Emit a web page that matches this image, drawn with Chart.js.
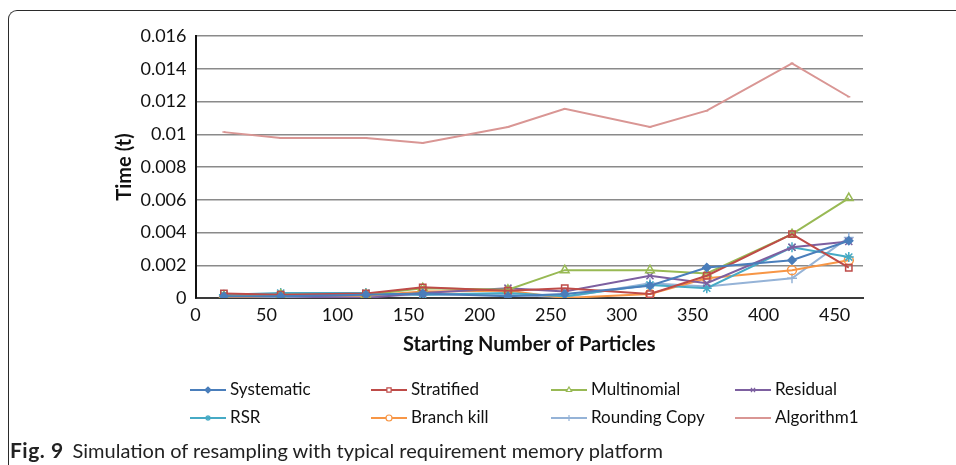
<!DOCTYPE html>
<html>
<head>
<meta charset="utf-8">
<script src="https://cdn.jsdelivr.net/npm/chart.js@4"></script>
<style>
  html, body { margin:0; padding:0; background:#fff; }
  #wrap { position:relative; width:956px; height:465px; overflow:hidden; }
  #frame { position:absolute; left:8px; top:10px; width:960px; height:470px;
           border-top:1.5px solid #2b2b2b; border-left:1.5px solid #2b2b2b; border-top-left-radius:9px; }
  canvas { position:absolute; left:0; top:0; }
  #caption { position:absolute; left:10px; top:437px; font-family:Lato, sans-serif; font-size:20px; color:#222; white-space:nowrap; }
  #caption b { font-weight:bold; font-size:21px; letter-spacing:0.5px; margin-right:9px; }
</style>
</head>
<body>
<div id="wrap">
  <div id="frame"></div>
  <canvas id="c" width="956" height="465"></canvas>
  <div id="caption"><b>Fig. 9</b>Simulation of resampling with typical requirement memory platform</div>
</div>
<script>
const xValues = [20, 60, 120, 160, 220, 260, 320, 360, 420, 460];
const seriesNames = ['Systematic', 'Stratified', 'Multinomial', 'Residual', 'RSR', 'Branch kill', 'Rounding Copy', 'Algorithm1'];
const systematic   = [0.0001, 0.0001, 0.0002, 0.00027, 0.0001, 0.00024, 0.00075, 0.00186, 0.00231, 0.0035];
const stratified   = [0.00028, 0.0002, 0.00028, 0.00065, 0.00045, 0.0006, 0.00024, 0.00136, 0.0039, 0.00185];
const multinomial  = [0.0001, 0.0002, 0.0002, 0.0006, 0.0005, 0.0017, 0.0017, 0.0015, 0.0039, 0.0061];
const residual     = [0.0001, 0.0001, 0, 0.0003, 0.0006, 0.0004, 0.00136, 0.0009, 0.0031, 0.00345];
const rsr          = [0.0002, 0.0003, 0.0003, 0.0002, 0.0003, 0.0001, 0.0008, 0.0006, 0.0031, 0.0025];
const branchKill   = [0, 0.00013, 0.00013, 0.0004, 0.00045, 0, 0.00024, 0.0012, 0.0017, 0.0023];
const roundingCopy = [0.0001, 0, 0.0001, 0.0002, 0.0002, 0.00005, 0.0009, 0.0007, 0.0012, 0.0037];
const algorithm1   = [0.01013, 0.00977, 0.00977, 0.00946, 0.01044, 0.01156, 0.01044, 0.01144, 0.01433, 0.01229];
const yTickLabels  = ['0', '0.002', '0.004', '0.006', '0.008', '0.01', '0.012', '0.014', '0.016'];
const xTickValues  = [0, 50, 100, 150, 200, 250, 300, 350, 400, 450];
const xTickLabels  = ['0', '50', '100', '150', '200', '250', '300', '350', '400', '450'];

const allSeries = [systematic, stratified, multinomial, residual, rsr, branchKill, roundingCopy, algorithm1];
const colors  = ['#4a7ebb', '#be4b48', '#98b954', '#7d60a0', '#46aac5', '#f79646', '#95b3d7', '#d99694'];
const markers = ['rectRot', 'rect', 'triangle', 'crossRot', 'star', 'circle', 'cross', 'line'];
const radii   = [4, 4.5, 5, 5, 5, 4.5, 5, 1.5];

const datasets = allSeries.map((vals, i) => ({
  label: seriesNames[i],
  data: vals.map((v, j) => ({ x: xValues[j], y: v })),
  borderColor: colors[i],
  backgroundColor: colors[i],
  pointStyle: markers[i],
  pointRadius: radii[i],
  pointBorderWidth: 1.5,
  pointBackgroundColor: i === 0 ? colors[i] : 'rgba(255,255,255,0)',
  pointBorderColor: colors[i],
  borderWidth: 2,
  tension: 0,
  fill: false
}));

const legendPlugin = {
  id: 'fixedLegend',
  afterDraw(chart) {
    const ctx = chart.ctx;
    const colX = [190, 371, 551, 735];
    const rowY = [390, 418];
    ctx.save();
    ctx.font = '17px Lato, sans-serif';
    ctx.textBaseline = 'middle';
    ctx.textAlign = 'left';
    chart.data.datasets.forEach((ds, i) => {
      const x = colX[i % 4], y = rowY[Math.floor(i / 4)];
      ctx.strokeStyle = ds.borderColor;
      ctx.lineWidth = 2;
      ctx.beginPath(); ctx.moveTo(x, y); ctx.lineTo(x + 36, y); ctx.stroke();
      ctx.fillStyle = i === 0 ? ds.borderColor : '#fff';
      ctx.lineWidth = 1.2;
      Chart.helpers.drawPoint(ctx, { pointStyle: ds.pointStyle, radius: i === 7 ? 1.5 : 3, borderWidth: 1.2 }, x + 18, y);
      ctx.fillStyle = '#111';
      ctx.fillText(ds.label, x + 40, y);
    });
    ctx.restore();
  }
};

new Chart(document.getElementById('c'), {
  type: 'line',
  data: { datasets },
  plugins: [legendPlugin],
  options: {
    responsive: false,
    animation: false,
    layout: { padding: { left: 113, top: 36, right: 93, bottom: 108 } },
    plugins: { legend: { display: false }, tooltip: { enabled: false } },
    scales: {
      x: {
        type: 'linear', min: 0, max: 470,
        afterBuildTicks: s => { s.ticks = xTickValues.map(v => ({ value: v })); },
        ticks: { color: '#111', font: { family: 'Lato, sans-serif', size: 18 }, padding: 6,
                 callback: (v) => xTickLabels[xTickValues.indexOf(v)] },
        grid: { display: false, drawTicks: false },
        border: { display: true, color: '#3a3a3a', width: 2 },
        title: { display: true, text: 'Starting Number of Particles', color: '#111',
                 font: { family: 'Lato, sans-serif', size: 20, weight: 'bold' }, padding: { top: 4, bottom: 0 } },
        afterFit: s => { s.height = 59; }
      },
      y: {
        type: 'linear', min: 0, max: 0.016,
        ticks: { stepSize: 0.002, color: '#111', font: { family: 'Lato, sans-serif', size: 18 }, padding: 9,
                 callback: (v, idx) => yTickLabels[idx] },
        grid: { color: '#8a8a8a', lineWidth: 1.5, drawTicks: false },
        border: { display: true, color: '#111', width: 2 },
        title: { display: true, text: 'Time (t)', color: '#111',
                 font: { family: 'Lato, sans-serif', size: 20, weight: 'bold' }, padding: { top: 0, bottom: 6 } },
        afterFit: s => { s.width = 82.5; }
      }
    }
  }
});
</script>
</body>
</html>
